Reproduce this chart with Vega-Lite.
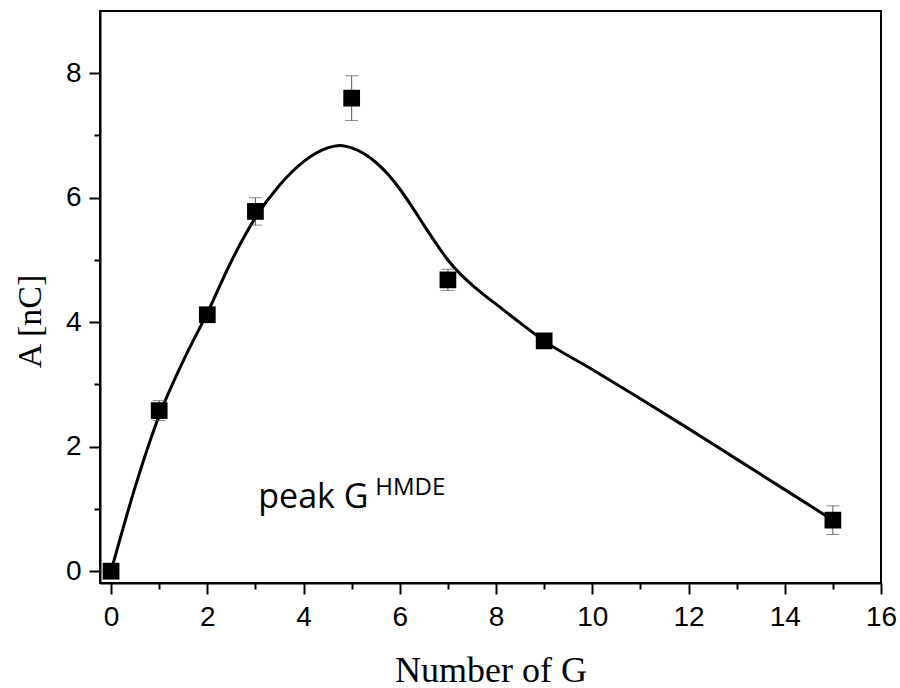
{
  "$schema": "https://vega.github.io/schema/vega-lite/v6.json",
  "width": 781,
  "height": 572,
  "autosize": {"type": "none"},
  "padding": {"left": 100, "top": 11, "right": 19, "bottom": 105},
  "background": "white",
  "config": {
    "view": {"stroke": "black", "strokeWidth": 2},
    "axis": {
      "grid": false,
      "domainColor": "black",
      "domainWidth": 2,
      "tickColor": "black",
      "tickWidth": 2,
      "labelColor": "black",
      "titleFont": "Liberation Serif",
      "titleFontWeight": "normal",
      "titleColor": "black"
    }
  },
  "datasets": {
    "pts": [
      {"n": 0, "a": 0.0, "lo": 0.0, "hi": 0.0},
      {"n": 1, "a": 2.58, "lo": 2.42, "hi": 2.74},
      {"n": 2, "a": 4.12, "lo": 4.04, "hi": 4.2},
      {"n": 3, "a": 5.78, "lo": 5.56, "hi": 6.0},
      {"n": 5, "a": 7.6, "lo": 7.24, "hi": 7.96},
      {"n": 7, "a": 4.68, "lo": 4.51, "hi": 4.85},
      {"n": 9, "a": 3.7, "lo": 3.65, "hi": 3.75},
      {"n": 15, "a": 0.82, "lo": 0.59, "hi": 1.05}
    ],
    "curve": [
      {"n": 0, "a": 0.0},
      {"n": 0.5, "a": 1.35},
      {"n": 1, "a": 2.5},
      {"n": 1.5, "a": 3.38},
      {"n": 2, "a": 4.15},
      {"n": 2.5, "a": 4.98},
      {"n": 3, "a": 5.68},
      {"n": 3.5, "a": 6.2},
      {"n": 4, "a": 6.58},
      {"n": 4.5, "a": 6.8},
      {"n": 4.76, "a": 6.84},
      {"n": 5.0, "a": 6.8},
      {"n": 5.25, "a": 6.71},
      {"n": 5.5, "a": 6.57},
      {"n": 5.75, "a": 6.38},
      {"n": 6.0, "a": 6.14},
      {"n": 6.25, "a": 5.86},
      {"n": 6.5, "a": 5.56},
      {"n": 6.75, "a": 5.27},
      {"n": 7.0, "a": 5.0},
      {"n": 7.25, "a": 4.78},
      {"n": 7.5, "a": 4.6},
      {"n": 7.75, "a": 4.44},
      {"n": 8.0, "a": 4.29},
      {"n": 8.5, "a": 3.99},
      {"n": 9.0, "a": 3.7},
      {"n": 10, "a": 3.24},
      {"n": 11, "a": 2.77},
      {"n": 12, "a": 2.29},
      {"n": 13, "a": 1.8},
      {"n": 14, "a": 1.31},
      {"n": 15, "a": 0.82}
    ],
    "lab1": [{"n": 3.06, "a": 1.01, "t": "peak G"}],
    "lab2": [{"n": 5.49, "a": 1.22, "t": "HMDE"}]
  },
  "layer": [
    {
      "data": {"name": "curve"},
      "mark": {"type": "line", "color": "black", "strokeWidth": 3, "interpolate": "monotone"},
      "encoding": {
        "x": {
          "field": "n", "type": "quantitative",
          "scale": {"domain": [-0.23, 16], "nice": false, "zero": false},
          "axis": {
            "title": "Number of G",
            "titleFontSize": 36,
            "titleY": 98,
            "titleBaseline": "alphabetic",
            "values": [0,1,2,3,4,5,6,7,8,9,10,11,12,13,14,15,16],
            "labelExpr": "datum.value % 2 ? '' : format(datum.value, 'd')",
            "labelFont": "Liberation Sans",
            "labelFontSize": 28,
            "tickSize": {"condition": {"test": "datum.value % 2 === 1", "value": 6}, "value": 11},
            "labelPadding": 9,
            "labelFlush": false,
            "labelOverlap": false
          }
        },
        "y": {
          "field": "a", "type": "quantitative",
          "scale": {"domain": [-0.19, 9.0], "nice": false, "zero": false},
          "axis": {
            "title": "A [nC]",
            "titleFontSize": 34,
            "titleX": -60,
            "titleY": 310,
            "titleAngle": -90,
            "titleBaseline": "alphabetic",
            "titleAnchor": "middle",
            "values": [0,1,2,3,4,5,6,7,8],
            "labelExpr": "datum.value % 2 ? '' : format(datum.value, 'd')",
            "labelFont": "Liberation Sans",
            "labelFontSize": 28,
            "tickSize": {"condition": {"test": "datum.value % 2 === 1", "value": 6}, "value": 11},
            "labelPadding": 8,
            "labelFlush": false,
            "labelOverlap": false
          }
        }
      }
    },
    {
      "data": {"name": "pts"},
      "mark": {"type": "rule", "color": "#555555", "strokeWidth": 1},
      "encoding": {
        "x": {"field": "n", "type": "quantitative"},
        "y": {"field": "lo", "type": "quantitative"},
        "y2": {"field": "hi"}
      }
    },
    {
      "data": {"name": "pts"},
      "mark": {"type": "tick", "color": "#555555", "orient": "horizontal", "size": 13, "thickness": 1},
      "encoding": {
        "x": {"field": "n", "type": "quantitative"},
        "y": {"field": "lo", "type": "quantitative"}
      }
    },
    {
      "data": {"name": "pts"},
      "mark": {"type": "tick", "color": "#555555", "orient": "horizontal", "size": 13, "thickness": 1},
      "encoding": {
        "x": {"field": "n", "type": "quantitative"},
        "y": {"field": "hi", "type": "quantitative"}
      }
    },
    {
      "data": {"name": "pts"},
      "mark": {"type": "point", "shape": "square", "filled": true, "color": "black", "opacity": 1, "size": 280},
      "encoding": {
        "x": {"field": "n", "type": "quantitative"},
        "y": {"field": "a", "type": "quantitative"}
      }
    },
    {
      "data": {"name": "lab1"},
      "mark": {"type": "text", "font": "Open Sans", "fontSize": 34, "align": "left", "baseline": "alphabetic", "color": "black"},
      "encoding": {
        "x": {"field": "n", "type": "quantitative"},
        "y": {"field": "a", "type": "quantitative"},
        "text": {"field": "t"}
      }
    },
    {
      "data": {"name": "lab2"},
      "mark": {"type": "text", "font": "Open Sans", "fontSize": 24, "align": "left", "baseline": "alphabetic", "color": "black"},
      "encoding": {
        "x": {"field": "n", "type": "quantitative"},
        "y": {"field": "a", "type": "quantitative"},
        "text": {"field": "t"}
      }
    }
  ]
}
